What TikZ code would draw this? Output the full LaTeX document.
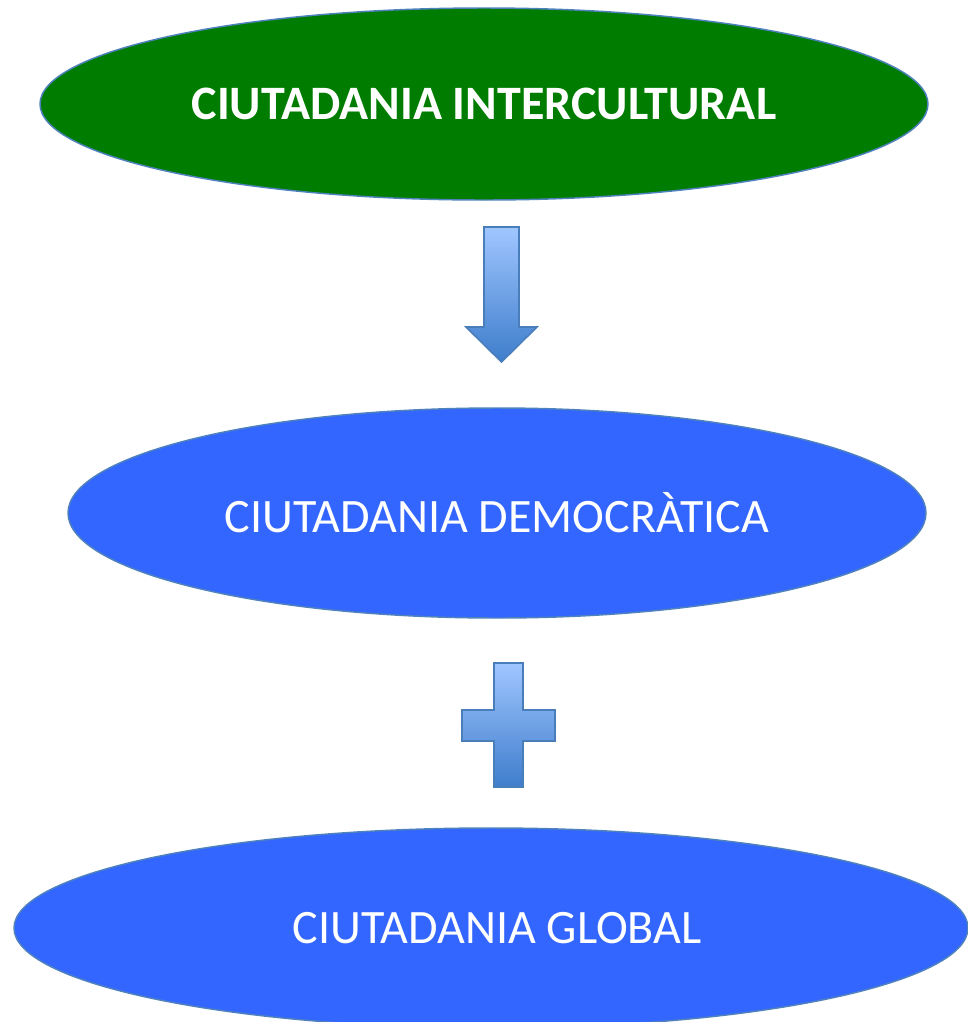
\documentclass[tikz,border=0pt]{standalone}
\usepackage{fontspec}
\setmainfont{Carlito}
\usetikzlibrary{shapes.geometric}
\definecolor{cgreen}{RGB}{0,125,0}
\definecolor{cblue}{RGB}{51,102,255}
\definecolor{cedge}{RGB}{79,129,189}
\definecolor{gtop}{RGB}{160,198,255}
\definecolor{gbot}{RGB}{62,125,204}
\definecolor{gedge}{RGB}{74,126,187}
\tikzset{
  oval/.style={ellipse, draw=cedge, line width=1.1pt, inner sep=0pt, outer sep=0pt, text=white, font=\fontsize{36}{43}\selectfont},
  blockshape/.style={draw=gedge, line width=1.2pt, top color=gtop, bottom color=gbot, line join=miter},
}
\begin{document}
\begin{tikzpicture}[x=0.75pt,y=-0.75pt]
\useasboundingbox (0,0) rectangle (968,1022);
\node[oval, fill=cgreen, minimum width=666pt, minimum height=144pt, font=\fontsize{36}{43}\selectfont\bfseries] (inter) at (484,104) {CIUTADANIA INTERCULTURAL};
\node[oval, fill=cblue, minimum width=643.5pt, minimum height=157.5pt] (demo) at (497,513) {CIUTADANIA DEMOCRÀTICA};
\node[oval, fill=cblue, minimum width=715.5pt, minimum height=150pt] (glob) at (491,928) {\hspace*{9pt}CIUTADANIA GLOBAL};
% down arrow
\path[blockshape] (484,227) -- (519,227) -- (519,327) -- (537,327) -- (501.5,362) -- (466,327) -- (484,327) -- cycle;
% plus sign
\path[blockshape] (494,663) -- (523,663) -- (523,710) -- (555,710) -- (555,741) -- (523,741) -- (523,787) -- (494,787) -- (494,741) -- (462,741) -- (462,710) -- (494,710) -- cycle;
\end{tikzpicture}
\end{document}
